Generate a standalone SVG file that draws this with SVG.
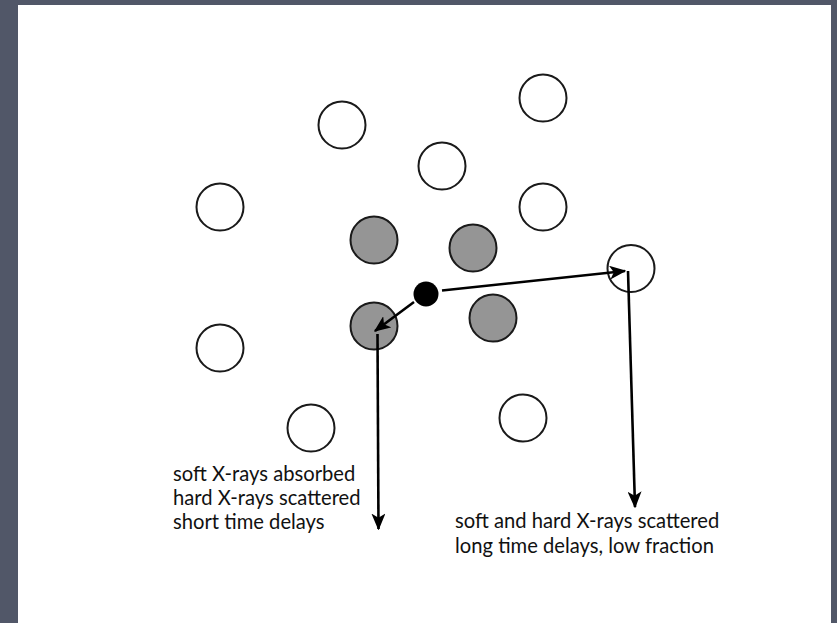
<svg xmlns="http://www.w3.org/2000/svg" width="837" height="623" viewBox="0 0 837 623">
<style>
.atom{fill:#fff;stroke:#1a1a1a;stroke-width:2}
.dense{fill:#959595;stroke:#1a1a1a;stroke-width:2}
.ray{fill:none;stroke:#000;stroke-width:2.6}
.lbl{font-family:Lato,"Open Sans","Liberation Sans",sans-serif;font-size:20.2px;fill:#111}
</style>
<defs>
<marker id="ah" viewBox="0 0 12 10" refX="11" refY="5" markerWidth="6.5" markerHeight="5.4" orient="auto" markerUnits="strokeWidth">
<path d="M0,0 L12,5 L0,10 L3,5 Z" fill="#000"/>
</marker>
</defs>
<rect x="0" y="0" width="837" height="623" fill="#515768"/>
<rect x="18" y="5" width="813" height="618" fill="#fff"/>
<g id="a1"><circle class="atom" cx="220" cy="207" r="23.5"/></g>
<g id="a2"><circle class="atom" cx="342" cy="125" r="23.5"/></g>
<g id="a3"><circle class="atom" cx="442" cy="166" r="23.5"/></g>
<g id="a4"><circle class="atom" cx="543" cy="98" r="23.5"/></g>
<g id="a5"><circle class="atom" cx="543" cy="207" r="23.5"/></g>
<g id="a6"><circle class="atom" cx="220" cy="348" r="23.5"/></g>
<g id="a7"><circle class="atom" cx="311" cy="428" r="23.5"/></g>
<g id="a8"><circle class="atom" cx="523" cy="418" r="23.5"/></g>
<g id="a9"><circle class="atom" cx="631" cy="268.5" r="23.5"/></g>
<g id="g1"><circle class="dense" cx="374" cy="240" r="23.5"/></g>
<g id="g2"><circle class="dense" cx="473" cy="248" r="23.5"/></g>
<g id="g3"><circle class="dense" cx="374" cy="326" r="23.5"/></g>
<g id="g4"><circle class="dense" cx="493" cy="318" r="23.5"/></g>
<g id="source"><circle cx="426" cy="294" r="12.5" fill="#000"/></g>
<g id="connectors">
<line class="ray" x1="442" y1="290.5" x2="625" y2="271" marker-end="url(#ah)"/>
<line class="ray" x1="628" y1="271" x2="635" y2="507" marker-end="url(#ah)"/>
<line class="ray" x1="414" y1="302" x2="375" y2="331" marker-end="url(#ah)"/>
<line class="ray" x1="377.5" y1="334" x2="378.5" y2="529" marker-end="url(#ah)"/>
</g>
<g id="label-left">
<text class="lbl" x="173" y="481">soft X-rays absorbed</text>
<text class="lbl" x="173" y="505">hard X-rays scattered</text>
<text class="lbl" x="173" y="529">short time delays</text>
</g>
<g id="label-right">
<text class="lbl" x="455" y="528">soft and hard X-rays scattered</text>
<text class="lbl" x="455" y="552.5">long time delays, low fraction</text>
</g>
</svg>
